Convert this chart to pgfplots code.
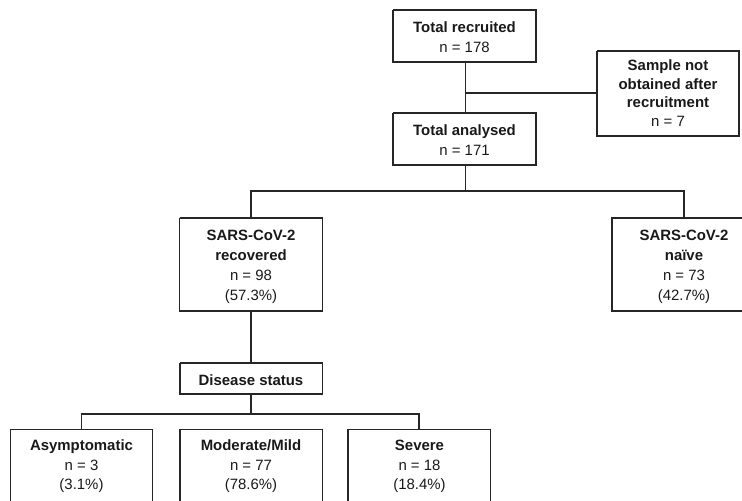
\documentclass[border=0pt]{standalone}
\usepackage{fontspec}
\setmainfont{Liberation Sans}
\usepackage{pgfplots}
\pgfplotsset{compat=1.18}
\begin{document}
\begin{tikzpicture}
\begin{axis}[
  width=742bp, height=501bp, scale only axis,
  xmin=0, xmax=742, ymin=0, ymax=501, y dir=reverse,
  hide axis, clip=true,
  ln/.style={mark=none, solid, draw=black!85, line width=1.2bp},
]
% boxes
\addplot[ln] coordinates {(393,10) (536,10) (536,62) (393,62) (393,10)};
\addplot[ln] coordinates {(597,51) (739,51) (739,136) (597,136) (597,51)};
\addplot[ln] coordinates {(393,113) (536,113) (536,165) (393,165) (393,113)};
\addplot[ln] coordinates {(179.5,218) (322.5,218) (322.5,311) (179.5,311) (179.5,218)};
\addplot[ln] coordinates {(745,218) (612,218) (612,311) (745,311)};
\addplot[ln] coordinates {(180,363) (322.5,363) (322.5,394) (180,394) (180,363)};
\addplot[ln] coordinates {(10.5,505) (10.5,429.5) (152.5,429.5) (152.5,505)};
\addplot[ln] coordinates {(180,505) (180,429.5) (322.5,429.5) (322.5,505)};
\addplot[ln] coordinates {(348,505) (348,429.5) (490.5,429.5) (490.5,505)};
% connectors
\addplot[ln] coordinates {(465.5,62) (465.5,113)};
\addplot[ln] coordinates {(465.5,93) (597,93)};
\addplot[ln] coordinates {(465.5,165) (465.5,191)};
\addplot[ln] coordinates {(251,218) (251,191) (684,191) (684,218)};
\addplot[ln] coordinates {(251,311) (251,363)};
\addplot[ln] coordinates {(251,394) (251,414)};
\addplot[ln] coordinates {(81.5,429.5) (81.5,414) (419,414) (419,429.5)};
% text
\tikzset{lbl/.style={anchor=base, inner sep=0pt, text=black!90, font=\fontsize{15}{18}\selectfont}}
\node[lbl] at (axis cs:464.5,32.3) {\bfseries Total recruited};
\node[lbl] at (axis cs:464.5,52.3) {n = 178};
\node[lbl] at (axis cs:668,71) {\bfseries Sample not};
\node[lbl] at (axis cs:668,89.5) {\bfseries obtained after};
\node[lbl] at (axis cs:668,107.5) {\bfseries recruitment};
\node[lbl] at (axis cs:668,126) {n = 7};
\node[lbl] at (axis cs:464.5,135) {\bfseries Total analysed};
\node[lbl] at (axis cs:464.5,155) {n = 171};
\node[lbl] at (axis cs:251,240) {\bfseries SARS-CoV-2};
\node[lbl] at (axis cs:251,260) {\bfseries recovered};
\node[lbl] at (axis cs:251,280.5) {n = 98};
\node[lbl] at (axis cs:251,300) {(57.3\%)};
\node[lbl] at (axis cs:684,240) {\bfseries SARS-CoV-2};
\node[lbl] at (axis cs:684,260) {\bfseries naïve};
\node[lbl] at (axis cs:684,280.5) {n = 73};
\node[lbl] at (axis cs:684,300) {(42.7\%)};
\node[lbl] at (axis cs:251,385) {\bfseries Disease status};
\node[lbl] at (axis cs:81.5,450) {\bfseries Asymptomatic};
\node[lbl] at (axis cs:81.5,470) {n = 3};
\node[lbl] at (axis cs:81.5,489) {(3.1\%)};
\node[lbl] at (axis cs:251,450) {\bfseries Moderate/Mild};
\node[lbl] at (axis cs:251,470) {n = 77};
\node[lbl] at (axis cs:251,489) {(78.6\%)};
\node[lbl] at (axis cs:419.5,450) {\bfseries Severe};
\node[lbl] at (axis cs:419.5,470) {n = 18};
\node[lbl] at (axis cs:419.5,489) {(18.4\%)};
\end{axis}
\pgfresetboundingbox
\useasboundingbox (current axis.south west) rectangle (current axis.north east);
\end{tikzpicture}
\end{document}
